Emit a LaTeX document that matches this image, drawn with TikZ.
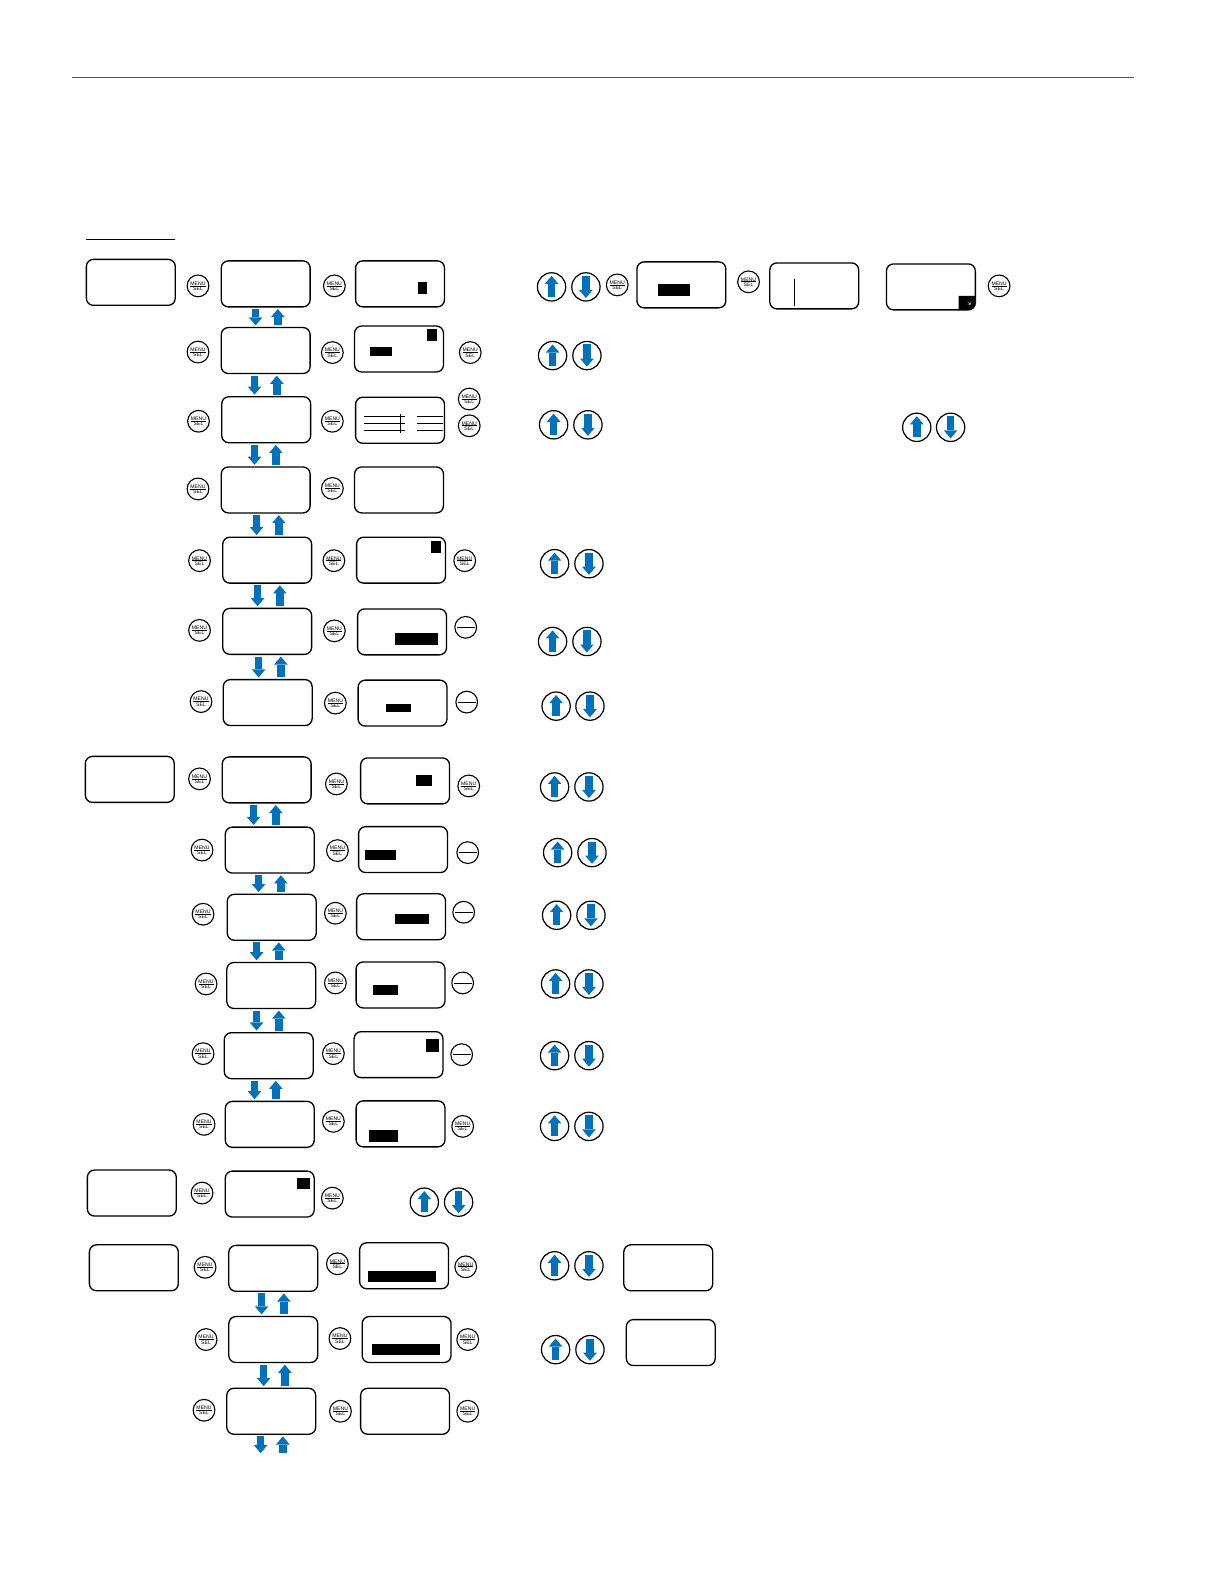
\documentclass[tikz,border=0pt]{standalone}
\usepackage{fontspec}
\setmainfont{Liberation Sans}
\newfontfamily\symfont{DejaVu Sans}
\usetikzlibrary{arrows.meta}
\definecolor{mblue}{RGB}{0,114,188}
\tikzset{
  lcdbox/.style={draw=black,line width=1.3pt,rounded corners=7pt,minimum width=88pt,minimum height=45.5pt,inner sep=0pt},
  menubtn/.style={draw=black,circle,line width=1.1pt,minimum size=21.5pt,inner sep=0pt},
  minusbtn/.style={draw=black,circle,line width=1.1pt,minimum size=21.5pt,inner sep=0pt},
  arrbtn/.style={draw=black,circle,line width=1.2pt,minimum size=28pt,inner sep=0pt},
  mtxt/.style={inner sep=0pt,font=\fontsize{5.1pt}{5.4pt}\selectfont,text=black},
  blk/.style={draw=mblue,line width=7.5pt,-{Triangle[width=13.5pt,length=8pt,line width=0pt,fill=mblue]}},
  blkgap/.style={blk,shorten >=1.5pt,shorten <=1.5pt},
  hline/.style={draw=black,line width=0.9pt},
  topline/.style={draw=mblue,line width=0.8pt}
}
\newcommand{\lcd}[3]{\node[lcdbox] (#1) at (#2,#3) {};}
\newcommand{\menub}[3]{%
  \node[menubtn] (#1) at (#2,#3) {};
  \node[mtxt,anchor=south] (#1t) at ([yshift=0.4pt]#1.center) {MENU};
  \node[mtxt,anchor=north] (#1b) at ([yshift=-0.7pt]#1.center) {SEL};
  \draw[line width=0.7pt] ([xshift=-7.5pt]#1.center) -- ([xshift=7.5pt]#1.center);}
\newcommand{\minusb}[3]{%
  \node[minusbtn] (#1) at (#2,#3) {};
  \draw[line width=0.8pt] ([xshift=-9pt]#1.center) -- ([xshift=9pt]#1.center);}
\newcommand{\updown}[5]{%
  \node[arrbtn] (#1u) at (#2,#3) {};
  \node[arrbtn] (#1d) at (#4,#5) {};
  \draw[blk] ([yshift=-10pt]#1u.center) -- ([yshift=11pt]#1u.center);
  \draw[blk] ([yshift=11pt]#1d.center) -- ([yshift=-11pt]#1d.center);}
\newcommand{\blkpair}[4]{%
  \draw[blkgap] (#1.south -| #3,0) -- (#2.north -| #3,0);
  \draw[blkgap] (#2.north -| #4,0) -- (#1.south -| #4,0);}
\begin{document}
\begin{tikzpicture}[x=1pt,y=-1pt]
\useasboundingbox (0,0) rectangle (1212,1568);
\coordinate (tl) at (71,76.5); \coordinate (tr) at (1123,76.5);
\draw[topline] (tl) -- (tr);
\coordinate (ul) at (85,237); \coordinate (ur) at (173,237);
\draw[hline] (ul) -- (ur);
% first column
\lcd{aa}{129.5}{279.5}\lcd{ab}{128.5}{771.5}\lcd{ac}{130.5}{1181}\lcd{ad}{132.5}{1255}
% middle column
\foreach \n/\x/\y in {b1/263/281,b2/263/347,b3/263.5/415.5,b4/263/485,b5/264.5/554.5,b6/264.5/625,b7/265/695.5,
  b8/264/772,b9/267/841.5,b10/269/908,b11/268.5/975.5,b12/266/1045,b13/267/1113,b14/267/1182,b15/270.5/1255.5,b16/270.5/1326,b17/268.5/1397}
  {\lcd{\n}{\x}{\y}}
% third column
\foreach \n/\x/\y in {c1/396/281,c2/395/345.5,c3/396/416,c4/395/485,c5/397/554.5,c6/398/625.5,c7/398.5/696,
  c8/401/773,c9/399/841,c10/397/907.5,c11/396.5/975,c12/394.5/1044,c13/396.5/1112.5,c15/400/1253,c16/402.5/1326,c17/401/1397}
  {\lcd{\n}{\x}{\y}}
% right boxes
\foreach \n/\x/\y in {r1/674.5/282,r2/806/283,r3/921.5/284,r4/661.5/1255,r5/664/1329}
  {\lcd{\n}{\x}{\y}}
% menu buttons
\foreach \n/\x/\y in {ma1/196/283,ma2/196/348.5,ma3/196.5/417,ma4/196/484,ma5/197.5/555,ma6/197.5/624,ma7/199/694.5,ma8/197.5/771,ma9/200/841.5,ma10/201/905,ma11/204/974,ma12/201/1043,ma13/202/1113,ma14/200/1181,ma15/203/1254.5,ma16/204/1326,ma17/202/1396,
  mb1/331/283,mb2/329/349,mb3/329/417,mb4/329/483.5,mb5/330.5/555,mb6/331/624.5,mb7/332/696,mb8/333/776,mb9/334/842,mb10/332/904,mb11/332/973,mb12/330/1043,mb13/330/1110,mb14/329/1186,mb15/334/1251,mb16/336.5/1325,mb17/337/1397,
  mc2/465.5/349,mc3a/464.5/395,mc3b/464.5/421.5,mc5/460/555,mc8/464/778,mc13/458/1115,mc15/461/1254,mc16/463/1326,mc17/463/1397,
  mr1/611/282,mr2/741/279,mr3/989/283}
  {\menub{\n}{\x}{\y}}
\foreach \n/\x/\y in {mm6/461/621,mm7/462/695,mm9/463/844,mm10/459/903,mm11/458/973,mm12/457/1044}
  {\minusb{\n}{\x}{\y}}
% up/down buttons
\foreach \n/\a/\b/\c/\d in {ud1/546/284/580/284,ud2/547/352/581/352,ud3/548/420.5/582/420.5,ud4/907.5/423/941/423,ud5/549/558/583/558,ud6/547/635/581/635,ud7/550.5/699/584/699,ud8/549/779/583/779,ud9/552/844/586/844,ud10/551/906/585/906,ud11/550/974/583/974,ud12/549/1045/583/1045,ud13/549/1115/583/1115,ud14/420/1190/454/1190,ud15/549/1253/583/1253,ud16/550/1336/584/1336}
  {\updown{\n}{\a}{\b}{\c}{\d}}
% block arrows between boxes
\blkpair{b1}{b2}{253}{275}
\blkpair{b2}{b3}{252}{274}
\blkpair{b3}{b4}{252}{273}
\blkpair{b4}{b5}{254}{276}
\blkpair{b5}{b6}{255}{277}
\blkpair{b6}{b7}{256}{278}
\blkpair{b8}{b9}{251}{273}
\blkpair{b9}{b10}{256}{278}
\blkpair{b10}{b11}{254}{276}
\blkpair{b11}{b12}{254}{276}
\blkpair{b12}{b13}{252}{273}
\blkpair{b15}{b16}{259}{281}
\blkpair{b16}{b17}{261}{282}
\coordinate (e1) at (258,1440); \coordinate (e2) at (280,1440);
\draw[blkgap] (b17.south -| e1) -- (e1);
\draw[blkgap] (e2) -- (b17.south -| e2);
% black fields
\foreach \xa/\ya/\xb/\yb in {414/279/423/291,366/343/388/352,423/326/433/338,427/536/437/547,391/627/434/638,382/697/407/705,412/767/428/778,361/841/392/851,391/905/425/915,369/975/394/985,422/1028/435/1041,365/1119/394/1130,294/1166/307/1177,364/1258/432/1269,368/1330/436/1341,651/281/683/293}
  {\fill[black] (\xa,\ya) rectangle (\xb,\yb);}
\fill[black] (949,293) -- (965.5,293) [rounded corners=6pt] -- (965.5,306.5) [sharp corners] -- (949,306.5) -- cycle;
\node[inner sep=0pt,text=white,font=\symfont\fontsize{5pt}{5pt}\selectfont] (cornerm) at (959.5,301) {⇲};
% table lines
\draw[hline] (360,412.5) -- (401,412.5) (360,419.5) -- (401,419.5) (360,426.5) -- (401,426.5);
\draw[hline] (412.5,412.5) -- (439,412.5) (412.5,419.5) -- (439,419.5) (412.5,426.5) -- (439,426.5);
\draw[hline] (396,410) -- (396,428.5);
\draw[hline] (786,276) -- (786,302.5);
\end{tikzpicture}
\end{document}
